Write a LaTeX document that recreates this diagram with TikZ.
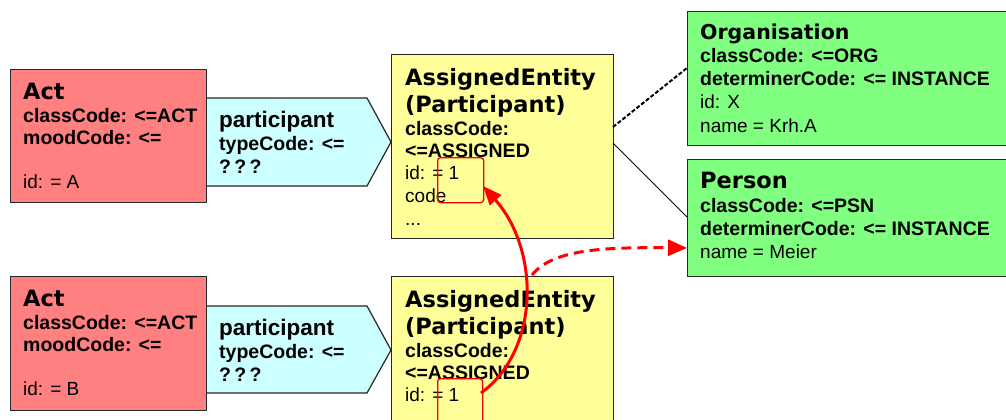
\documentclass[tikz,border=0pt]{standalone}
\usepackage{fontspec}
\setmainfont{Liberation Sans}
\newfontfamily\ttlfont{DejaVu Sans}
\usetikzlibrary{arrows.meta}
\definecolor{actred}{HTML}{FF8080}
\definecolor{partcyan}{HTML}{CCFFFF}
\definecolor{aeyellow}{HTML}{FFFF99}
\definecolor{entgreen}{HTML}{80FF80}
\tikzset{
  box/.style={draw=black!85, line width=1.2pt, rectangle, inner sep=0pt, anchor=north west},
  ttl/.style={anchor=base west, inner sep=0pt, font=\ttlfont\bfseries\fontsize{22.5}{26}\selectfont},
  bld/.style={anchor=base west, inner sep=0pt, font=\bfseries\fontsize{19.5}{23}\selectfont},
  reg/.style={anchor=base west, inner sep=0pt, font=\fontsize{19}{23}\selectfont},
  ptl/.style={anchor=base west, inner sep=0pt, font=\bfseries\fontsize{22.5}{26}\selectfont},
  hilite/.style={draw=red, line width=1.3pt, rounded corners=3pt},
  redarrow/.style={draw=red, line width=3pt, -{Triangle[length=19pt,width=15pt]}},
}
\begin{document}
\begin{tikzpicture}[x=1pt,y=-1pt]
\useasboundingbox (0,0) rectangle (1006,420);
\clip (0,0) rectangle (1006,420);
% ---------- participant arrows ----------
\draw[fill=partcyan, draw=black!85, line width=1.2pt] (206,98) -- (367,98) -- (391,142) -- (367,186) -- (206,186);
\draw[fill=partcyan, draw=black!85, line width=1.2pt] (206,306) -- (367,306) -- (391,350) -- (367,393) -- (206,393);
\node[ptl] (pa1) at (219,127) {participant};
\node[bld] (pa2) at (219,150) {typeCode: <=};
\node[bld] (pa3) at (219,173) {?\,?\,?};
\node[ptl] (pb1) at (219,335) {participant};
\node[bld] (pb2) at (219,358) {typeCode: <=};
\node[bld] (pb3) at (219,381) {?\,?\,?};
% ---------- Act boxes ----------
\node[box, fill=actred, minimum width=196pt, minimum height=133pt] (actA) at (10,69) {};
\node[ttl] (aA1) at (23,99) {Act};
\node[bld] (aA2) at (23,122) {classCode: <=ACT};
\node[bld] (aA3) at (23,144) {moodCode: <=};
\node[reg] (aA4) at (23,188) {id: = A};
\node[box, fill=actred, minimum width=196pt, minimum height=134pt] (actB) at (10,276) {};
\node[ttl] (aB1) at (23,306) {Act};
\node[bld] (aB2) at (23,329) {classCode: <=ACT};
\node[bld] (aB3) at (23,351) {moodCode: <=};
\node[reg] (aB4) at (23,395) {id: = B};
% ---------- AssignedEntity boxes ----------
\node[box, fill=aeyellow, minimum width=222pt, minimum height=184pt] (aeA) at (391,54) {};
\node[ttl] (eA1) at (405,85) {AssignedEntity};
\node[ttl] (eA2) at (405,112) {(Participant)};
\node[bld] (eA3) at (405,135) {classCode:};
\node[bld] (eA4) at (405,157) {<=ASSIGNED};
\node[reg] (eA5) at (405,179) {id: = 1};
\node[reg] (eA6) at (405,202) {code};
\node[reg] (eA7) at (405,225) {...};
\node[box, fill=aeyellow, minimum width=222pt, minimum height=184pt] (aeB) at (391,276) {};
\node[ttl] (eB1) at (405,307) {AssignedEntity};
\node[ttl] (eB2) at (405,334) {(Participant)};
\node[bld] (eB3) at (405,357) {classCode:};
\node[bld] (eB4) at (405,379) {<=ASSIGNED};
\node[reg] (eB5) at (405,401) {id: = 1};
% ---------- Organisation / Person ----------
\node[box, fill=entgreen, minimum width=330pt, minimum height=134pt] (org) at (687,11) {};
\node[ttl, font=\ttlfont\bfseries\fontsize{20.5}{24}\selectfont] (o1) at (700,40) {Organisation};
\node[bld] (o2) at (700,63) {classCode: <=ORG};
\node[bld] (o3) at (700,85) {determinerCode: <= INSTANCE};
\node[reg] (o4) at (700,108) {id: X};
\node[reg] (o5) at (700,132) {name = Krh.A};
\node[box, fill=entgreen, minimum width=330pt, minimum height=117pt] (psn) at (687,159) {};
\node[ttl] (p1) at (700,188) {Person};
\node[bld] (p2) at (700,212) {classCode: <=PSN};
\node[bld] (p3) at (700,235) {determinerCode: <= INSTANCE};
\node[reg] (p4) at (700,258) {name = Meier};
% ---------- links ----------
\coordinate (aeOrg) at (613,127);
\coordinate (orgIn) at (687,68);
\coordinate (aePsn) at (613,143);
\coordinate (psnIn) at (687,217);
\draw[black, line width=2pt, dash pattern=on 4pt off 2pt] (aeOrg) -- (orgIn);
\draw[black, line width=1pt] (aePsn) -- (psnIn);
% ---------- red highlights ----------
\node[hilite, minimum width=46pt, minimum height=45pt, inner sep=0pt, anchor=north west] (hlA) at (437,157) {};
\node[hilite, minimum width=45pt, minimum height=70pt, inner sep=0pt, anchor=north west] (hlB) at (437,378) {};
\coordinate (curveStart) at (481,393);
\coordinate (curveEnd) at (483,186);
\draw[redarrow] (curveStart) .. controls (540,350) and (540,250) .. (curveEnd);
\coordinate (dashStart) at (532,275);
\coordinate (psnTarget) at (687,248);
\draw[redarrow, dash pattern=on 10pt off 6pt, -{Triangle[length=19pt,width=16pt]}] (dashStart) .. controls (552,250) and (600,247) .. (psnTarget);
\end{tikzpicture}
\end{document}
